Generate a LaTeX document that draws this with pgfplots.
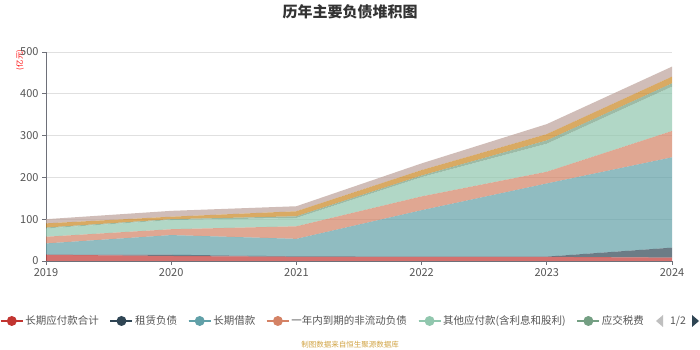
\documentclass[border=0pt]{standalone}
\usepackage{fontspec}
\setmainfont{Noto Sans CJK SC}
\usepackage{pgfplots}
\pgfplotsset{compat=1.18}
\definecolor{c1}{HTML}{C23531}
\definecolor{c2}{HTML}{2F4554}
\definecolor{c3}{HTML}{61A0A8}
\definecolor{c4}{HTML}{D48265}
\definecolor{c5}{HTML}{91C7AE}
\definecolor{c6}{HTML}{749F83}
\definecolor{c7}{HTML}{CA8622}
\definecolor{c8}{HTML}{BDA29A}
\definecolor{gridc}{HTML}{E0E0E0}
\definecolor{axc}{HTML}{6E7079}
\definecolor{txt}{HTML}{555555}
\newcommand{\legimg}[1]{\draw[line width=1.2pt,#1,opacity=1,draw opacity=1] (0pt,0pt) -- (22pt,0pt); \fill[#1,opacity=1,fill opacity=1] (11pt,0pt) circle (5pt);}
\begin{document}
\begin{tikzpicture}[x=1pt,y=1pt]
\path[use as bounding box,fill=white] (0,0) rectangle (700,350);
\node[font=\fontsize{15}{18}\selectfont\bfseries,text=black!80] at (350,338) {历年主要负债堆积图};
\node[rotate=90,font=\fontsize{7.5}{9}\selectfont,text=red] at (20,290) {(亿元)};
\begin{axis}[
  scale only axis, width=626pt, height=209pt,
  at={(46pt,89pt)}, anchor=south west,
  xmin=2019, xmax=2024, ymin=0, ymax=500,
  xtick={2019,2020,2021,2022,2023,2024},
  ytick={0,100,200,300,400,500},
  xticklabel style={/pgf/number format/1000 sep=},
  /pgf/number format/assume math mode=true,
  tick label style={font=\fontsize{11}{13}\selectfont, text=txt},
  axis x line*=bottom, axis y line*=left,
  axis line style={axc, line width=0.8pt},
  tick style={axc, line width=0.8pt},
  tick align=outside, major tick length=4pt,
  ymajorgrids, grid style={gridc, line width=0.8pt},
  stack plots=y,
  legend columns=-1,
  legend style={draw=none, fill=none, at={(axis description cs:-0.0735,-0.287)}, anchor=west,
    inner sep=0pt, font=\fontsize{10.5}{12}\selectfont, text=txt,
    /tikz/every even column/.append style={column sep=9pt}},
]
\addplot[fill=c1, fill opacity=0.7, draw=none, legend image code/.code={\legimg{c1}}] coordinates {(2019,15) (2020,12) (2021,10) (2022,10) (2023,10) (2024,8)} \closedcycle;
\addplot[fill=c2, fill opacity=0.7, draw=none, legend image code/.code={\legimg{c2}}] coordinates {(2019,0) (2020,3) (2021,1) (2022,0.5) (2023,0.5) (2024,24)} \closedcycle;
\addplot[fill=c3, fill opacity=0.7, draw=none, legend image code/.code={\legimg{c3}}] coordinates {(2019,27) (2020,47) (2021,42) (2022,111) (2023,175) (2024,216)} \closedcycle;
\addplot[fill=c4, fill opacity=0.7, draw=none, legend image code/.code={\legimg{c4}}] coordinates {(2019,16) (2020,14) (2021,30) (2022,33) (2023,28) (2024,63)} \closedcycle;
\addplot[fill=c5, fill opacity=0.7, draw=none, legend image code/.code={\legimg{c5}}] coordinates {(2019,20) (2020,22) (2021,20) (2022,46) (2023,67) (2024,106)} \closedcycle;
\addplot[fill=c6, fill opacity=0.7, draw=none, legend image code/.code={\legimg{c6}}] coordinates {(2019,2) (2020,2) (2021,4) (2022,4) (2023,8) (2024,8)} \closedcycle;
\addplot[fill=c7, fill opacity=0.7, draw=none] coordinates {(2019,10) (2020,6) (2021,12) (2022,13) (2023,15) (2024,16)} \closedcycle;
\addplot[fill=c8, fill opacity=0.7, draw=none] coordinates {(2019,10) (2020,14) (2021,12) (2022,16) (2023,24) (2024,24)} \closedcycle;
\legend{长期应付款合计,租赁负债,长期借款,一年内到期的非流动负债,其他应付款(含利息和股利),应交税费}
\end{axis}
\fill[gray!50] (656,29) -- (663,35) -- (663,23) -- cycle;
\node[font=\fontsize{10.5}{12}\selectfont,text=txt] at (678,29) {1/2};
\fill[c2] (699,29) -- (692,35) -- (692,23) -- cycle;
\node[font=\fontsize{7.5}{9}\selectfont,text={rgb,255:red,210;green,165;blue,70}] at (350,5) {制图数据来自恒生聚源数据库};
\end{tikzpicture}
\end{document}
